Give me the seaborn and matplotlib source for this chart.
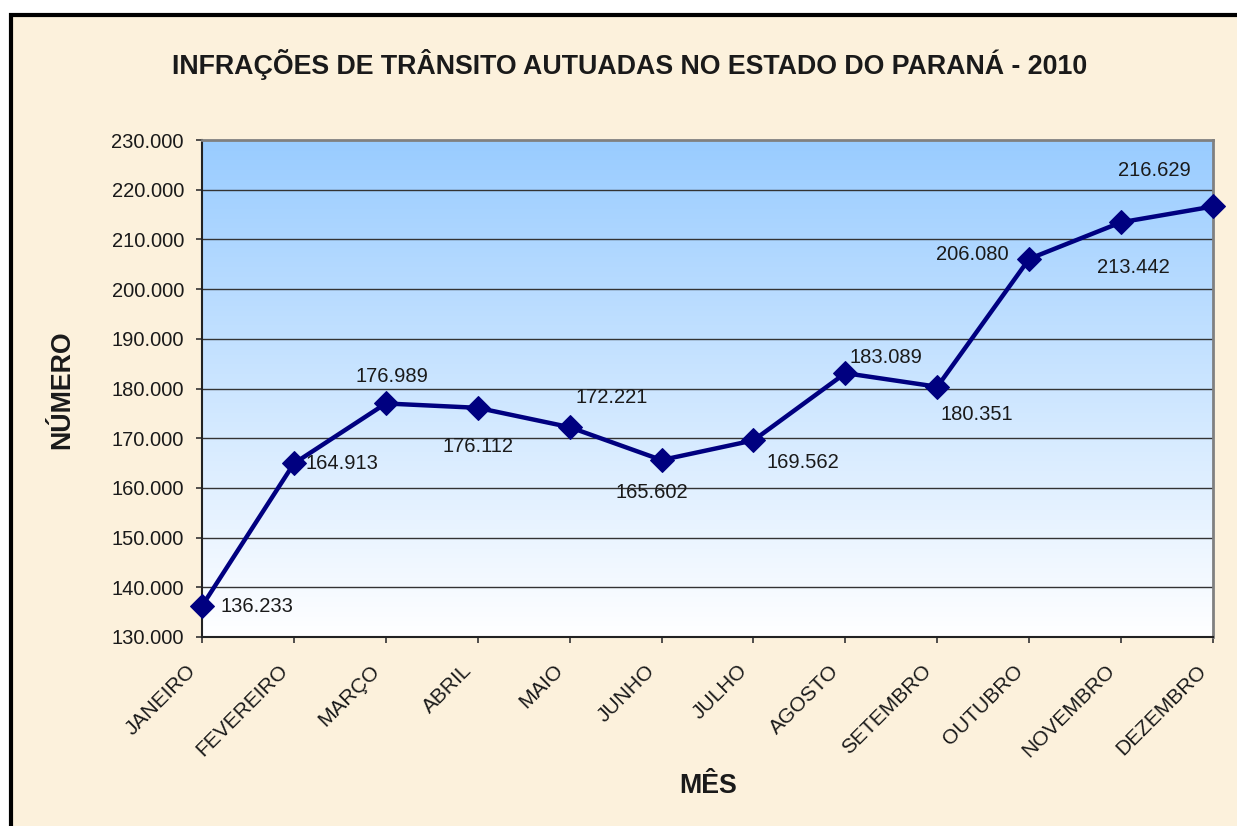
import numpy as np
import pandas as pd
import matplotlib
matplotlib.use("Agg")
import matplotlib.pyplot as plt
import seaborn as sns
from matplotlib.patches import Rectangle
from matplotlib.colors import LinearSegmentedColormap
from matplotlib.transforms import ScaledTranslation

months = ["JANEIRO", "FEVEREIRO", "MARÇO", "ABRIL", "MAIO", "JUNHO", "JULHO",
          "AGOSTO", "SETEMBRO", "OUTUBRO", "NOVEMBRO", "DEZEMBRO"]
values = [136233, 164913, 176989, 176112, 172221, 165602, 169562,
          183089, 180351, 206080, 213442, 216629]
value_labels = ["136.233", "164.913", "176.989", "176.112", "172.221", "165.602",
                "169.562", "183.089", "180.351", "206.080", "213.442", "216.629"]
y_ticks = [130000, 140000, 150000, 160000, 170000, 180000, 190000, 200000,
           210000, 220000, 230000]
y_tick_labels = ["130.000", "140.000", "150.000", "160.000", "170.000", "180.000",
                 "190.000", "200.000", "210.000", "220.000", "230.000"]
title = "INFRAÇÕES DE TRÂNSITO AUTUADAS NO ESTADO DO PARANÁ - 2010"

# label offsets in pixels (dx, dy) and alignment
label_offsets = [(18, 0, "left"), (12, 0, "left"), (6, 27, "center"), (0, -39, "center"),
                 (42, 30, "center"), (-10, -32, "center"), (49, -22, "center"),
                 (41, 16, "center"), (40, -28, "center"), (-57, 4, "center"),
                 (12, -45, "center"), (-59, 36, "center")]

sns.set_theme(style="white")
plt.rcParams["font.family"] = ["Liberation Sans", "DejaVu Sans"]

W, H = 1237, 826
fig = plt.figure(figsize=(W / 100, H / 100), dpi=100)
fig.patch.set_facecolor("white")
bg_color = "#FCF1DC"
frame = Rectangle((11 / W, -0.1), 1.2, 1 - 15 / H + 0.1, transform=fig.transFigure,
                  facecolor=bg_color, edgecolor="black", linewidth=3, zorder=-10)
fig.add_artist(frame)

ax = fig.add_axes([202 / W, 1 - 637 / H, (1213 - 202) / W, (637 - 140) / H])
ax.set_zorder(1)
ax.set_facecolor("none")

# gradient background
grad = np.linspace(0, 1, 256).reshape(-1, 1)
cmap = LinearSegmentedColormap.from_list("bg", ["#FFFFFF", "#99CCFF"])
ax.imshow(grad, extent=[0, 1, 0, 1], transform=ax.transAxes, origin="lower",
          aspect="auto", cmap=cmap, zorder=0)

df = pd.DataFrame({"x": np.arange(len(months)), "y": values})
sns.lineplot(data=df, x="x", y="y", ax=ax, color="#000080", linewidth=3.2,
             marker="D", markersize=12, markeredgecolor="#000080", zorder=5, clip_on=False)

ax.set_xlim(0, len(months) - 1)
ax.set_ylim(130000, 230000)
ax.set_yticks(y_ticks)
ax.set_yticklabels(y_tick_labels, fontsize=14.5, color="#1a1a1a")
ax.set_xticks(np.arange(len(months)))
ax.set_xticklabels(months, rotation=45, ha="right", va="top", fontsize=15,
                   color="#1a1a1a", rotation_mode="anchor")
ax.tick_params(axis="both", direction="out", length=4.5, width=1.2, color="#333333",
               left=True, bottom=True)
ax.tick_params(axis="x", pad=10)
ax.tick_params(axis="y", pad=8.5)
shift = ScaledTranslation(-16 / 100, -4 / 100, fig.dpi_scale_trans)
for lbl in ax.get_xticklabels():
    lbl.set_transform(lbl.get_transform() + shift)

for yv in y_ticks[1:-1]:
    ax.axhline(yv, color="#333333", linewidth=1, zorder=1)

for side in ["top", "right"]:
    ax.spines[side].set_color("#808080")
    ax.spines[side].set_linewidth(2)
for side in ["left", "bottom"]:
    ax.spines[side].set_color("#222222")
    ax.spines[side].set_linewidth(1.5)
    ax.spines[side].set_visible(True)

for i, (v, lab) in enumerate(zip(values, value_labels)):
    dx, dy, ha = label_offsets[i]
    ax.annotate(lab, (i, v), xytext=(dx, dy), textcoords="offset pixels",
                ha=ha, va="center", fontsize=14.5, color="#1a1a1a", zorder=6)

ax.set_xlabel("")
ax.set_ylabel("")
fig.text(630 / W, 1 - 65 / H, title, ha="center", va="center", fontsize=19.3,
         fontweight="bold", color="#1a1a1a")
fig.text(62 / W, 1 - 390 / H, "NÚMERO", ha="center", va="center", rotation=90,
         fontsize=19.3, fontweight="bold", color="#1a1a1a")
fig.text(708 / W, 1 - 786 / H, "MÊS", ha="center", va="center",
         fontsize=19.3, fontweight="bold", color="#1a1a1a")

fig.savefig("out.png", dpi=100)
